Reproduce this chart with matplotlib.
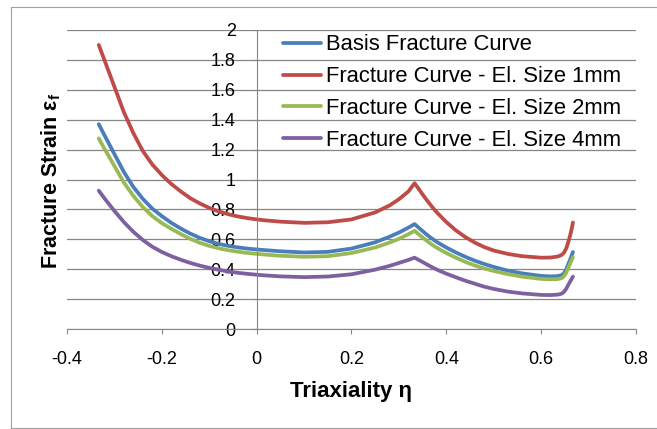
import matplotlib
matplotlib.use('Agg')
import matplotlib.pyplot as plt
from matplotlib.patches import Rectangle

# triaxiality values (shared x for all four curves)
eta = [-0.333, -0.32, -0.31, -0.30, -0.28, -0.26, -0.24, -0.22, -0.20, -0.18,
       -0.16, -0.14, -0.12, -0.10, -0.08, -0.06, -0.04, -0.02, 0.0, 0.02,
       0.05, 0.10, 0.15, 0.20, 0.25, 0.28, 0.30, 0.32, 0.333,
       0.34, 0.35, 0.36, 0.37, 0.38, 0.40, 0.42, 0.44, 0.46, 0.48,
       0.50, 0.53, 0.56, 0.60, 0.62, 0.635, 0.643, 0.648, 0.653, 0.658,
       0.663, 0.667]

basis = [1.37, 1.29, 1.23, 1.17, 1.05, 0.95, 0.87, 0.805, 0.755, 0.71,
         0.672, 0.638, 0.61, 0.587, 0.569, 0.556, 0.546, 0.538, 0.532, 0.527,
         0.52, 0.512, 0.516, 0.538, 0.58, 0.617, 0.645, 0.678, 0.702,
         0.682, 0.655, 0.628, 0.604, 0.582, 0.545, 0.512, 0.483, 0.457, 0.435,
         0.415, 0.39, 0.372, 0.355, 0.352, 0.354, 0.36, 0.372, 0.40, 0.44,
         0.48, 0.515]

size_1mm = [1.90, 1.79, 1.705, 1.62, 1.45, 1.31, 1.19, 1.10, 1.03, 0.97,
            0.92, 0.875, 0.84, 0.81, 0.787, 0.768, 0.753, 0.742, 0.733, 0.726,
            0.718, 0.71, 0.714, 0.733, 0.78, 0.826, 0.868, 0.92, 0.975,
            0.945, 0.90, 0.857, 0.817, 0.78, 0.715, 0.66, 0.615, 0.578, 0.548,
            0.525, 0.502, 0.487, 0.477, 0.478, 0.485, 0.495, 0.51, 0.54, 0.59,
            0.65, 0.712]

size_2mm = [1.275, 1.20, 1.145, 1.09, 0.98, 0.89, 0.815, 0.755, 0.708, 0.67,
            0.635, 0.603, 0.577, 0.556, 0.54, 0.527, 0.517, 0.509, 0.503, 0.497,
            0.49, 0.483, 0.487, 0.508, 0.545, 0.578, 0.603, 0.634, 0.657,
            0.638, 0.612, 0.587, 0.564, 0.543, 0.508, 0.477, 0.449, 0.425, 0.405,
            0.388, 0.367, 0.35, 0.335, 0.332, 0.334, 0.34, 0.352, 0.378, 0.415,
            0.452, 0.48]

size_4mm = [0.925, 0.87, 0.83, 0.79, 0.715, 0.65, 0.595, 0.55, 0.515, 0.487,
            0.463, 0.442, 0.424, 0.409, 0.396, 0.385, 0.376, 0.369, 0.363, 0.358,
            0.352, 0.347, 0.351, 0.366, 0.397, 0.422, 0.442, 0.462, 0.477,
            0.465, 0.448, 0.43, 0.413, 0.397, 0.37, 0.346, 0.323, 0.303, 0.283,
            0.268, 0.25, 0.238, 0.228, 0.227, 0.23, 0.236, 0.248, 0.27, 0.30,
            0.328, 0.35]

labels = ['Basis Fracture Curve',
          'Fracture Curve - El. Size 1mm',
          'Fracture Curve - El. Size 2mm',
          'Fracture Curve - El. Size 4mm']
colors = ['#4A7EBB', '#BE4B48', '#98B954', '#7D60A0']

xticks = [-0.4, -0.2, 0, 0.2, 0.4, 0.6, 0.8]
xticklabels = ['-0.4', '-0.2', '0', '0.2', '0.4', '0.6', '0.8']
yticks = [0, 0.2, 0.4, 0.6, 0.8, 1.0, 1.2, 1.4, 1.6, 1.8, 2.0]
yticklabels = ['0', '0.2', '0.4', '0.6', '0.8', '1', '1.2', '1.4', '1.6', '1.8', '2']

plt.rcParams['font.family'] = ['Liberation Sans', 'DejaVu Sans']
plt.rcParams['mathtext.fontset'] = 'custom'
plt.rcParams['mathtext.rm'] = 'Liberation Sans'
plt.rcParams['mathtext.bf'] = 'Liberation Sans:bold'
plt.rcParams['mathtext.it'] = 'Liberation Sans:italic'

W, H = 657, 429
fig = plt.figure(figsize=(W / 100, H / 100), dpi=100)
ax = fig.add_axes([67 / W, 1 - 329 / H, 569 / W, 299 / H])

gray = '#868686'
for series, lab, col in zip([basis, size_1mm, size_2mm, size_4mm], labels, colors):
    ax.plot(eta, series, color=col, lw=2.7, label=lab,
            solid_capstyle='round', solid_joinstyle='round')

ax.set_xlim(-0.4, 0.8)
ax.set_ylim(0, 2)
ax.set_xticks(xticks)
ax.set_xticklabels(xticklabels)
ax.set_yticks(yticks)
ax.set_yticklabels(yticklabels)

ax.spines['top'].set_visible(False)
ax.spines['right'].set_visible(False)
ax.spines['left'].set_position(('data', 0))
ax.spines['left'].set_color(gray)
ax.spines['bottom'].set_color(gray)
ax.yaxis.grid(True, color=gray, lw=0.9)
ax.set_axisbelow(True)

ax.tick_params(axis='both', direction='out', length=3.6, color=gray,
               labelsize=13, labelcolor='black')
ax.tick_params(axis='y', pad=11.5)
ax.tick_params(axis='x', pad=12)

fig.text(351 / W, 1 - 392 / H, 'Triaxiality η', ha='center', va='center',
         fontsize=16, fontweight='bold')
fig.text(51 / W, 1 - 181 / H, 'Fracture Strain ε$_\\mathbf{f}$', ha='center',
         va='center', rotation=90, fontsize=15.5, fontweight='bold')

ax.legend(loc='upper left', bbox_to_anchor=((283 - 67) / 569, 0.985),
          frameon=False, fontsize=15.8, handlelength=1.75, handletextpad=0.2,
          labelspacing=0.49, borderpad=0, borderaxespad=0)

fig.patches.append(Rectangle((11 / W, 1 - 428 / H), 1.0, (428 - 7) / H,
                             transform=fig.transFigure, fill=False,
                             edgecolor='#a0a0a0', lw=0.8))

fig.savefig('out.png', dpi=100)
